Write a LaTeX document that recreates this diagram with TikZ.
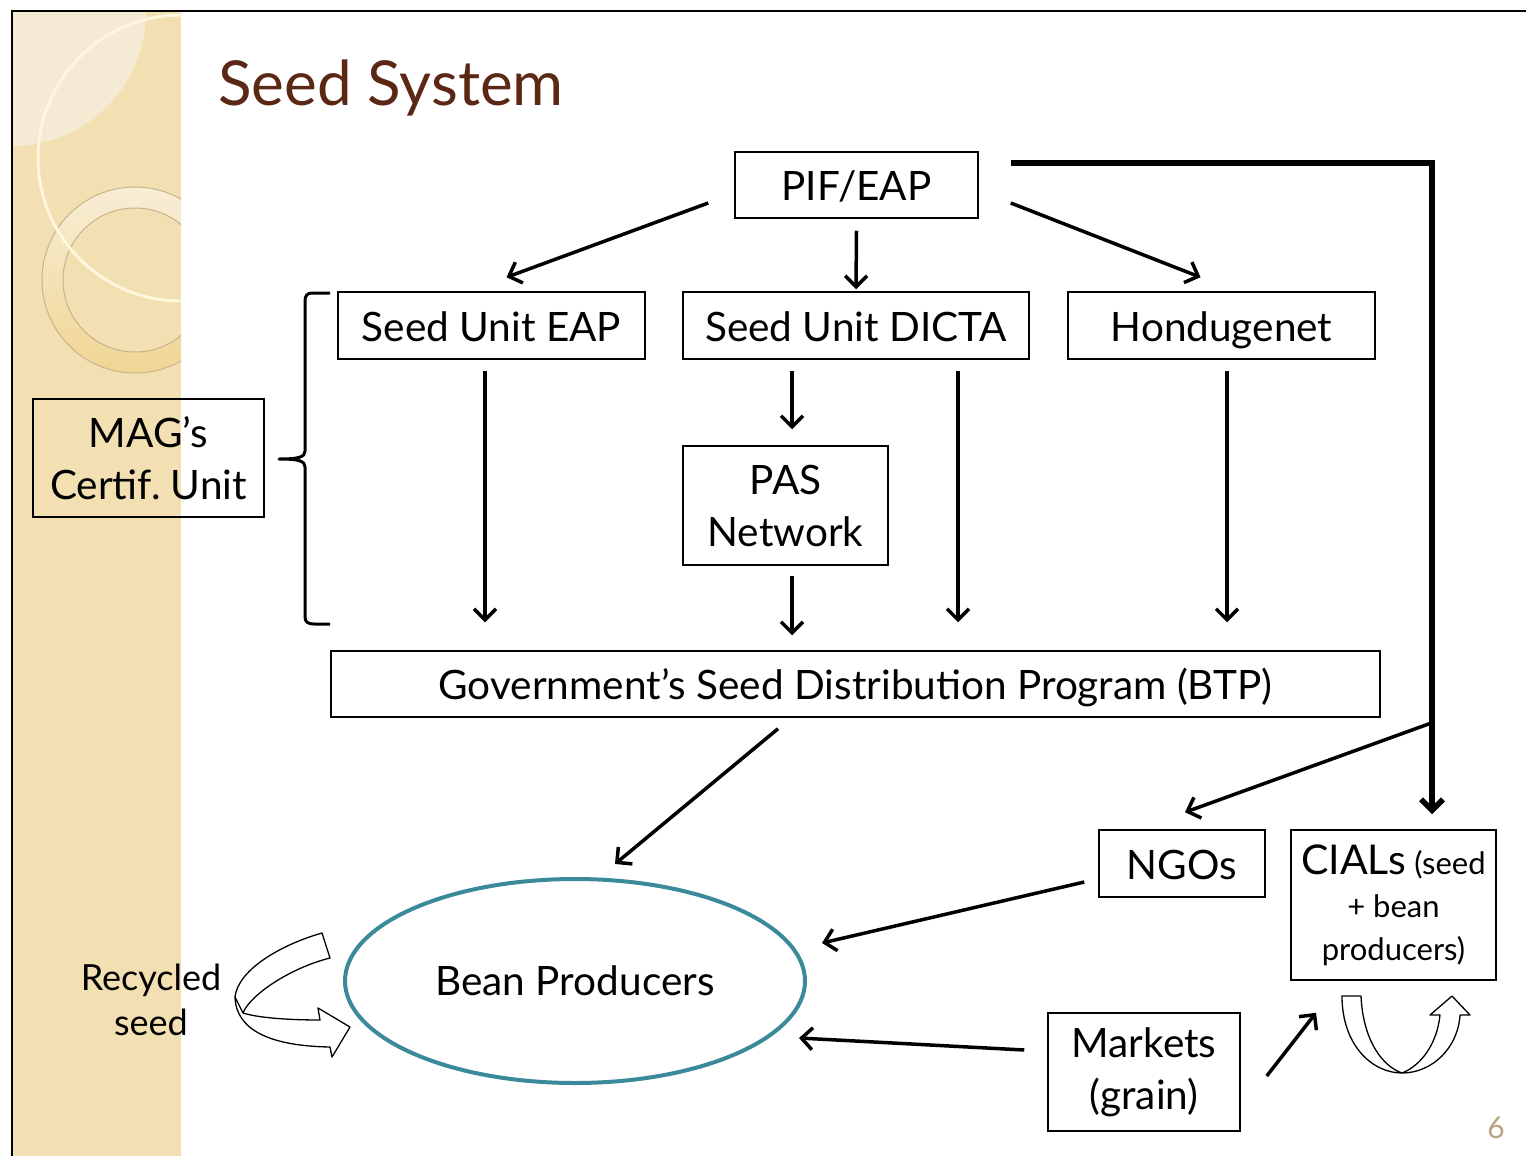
\documentclass[tikz,border=0pt]{standalone}
\usepackage{fontspec}
\setmainfont{Lato}
\usetikzlibrary{arrows.meta,calc,shapes.geometric}
\definecolor{titlebrown}{RGB}{92,40,22}
\definecolor{beanteal}{RGB}{58,138,155}
\definecolor{stripbeige}{RGB}{242,223,178}
\definecolor{lightbeige}{RGB}{245,234,212}
\definecolor{ringcream}{RGB}{255,246,222}
\definecolor{ringtop}{RGB}{248,238,214}
\definecolor{ringbot}{RGB}{240,213,148}
\definecolor{ringedge}{RGB}{200,180,140}
\definecolor{pagenum}{RGB}{184,163,128}
\begin{document}
\begin{tikzpicture}[x=1pt,y=-1pt,
  box/.style={draw=black, line width=1.5pt, inner sep=0pt, align=center, font=\fontsize{40.5}{52}\selectfont},
  oneline/.style={text height=31pt, text depth=0pt},
  arr/.style={line width=3.5pt, -{Straight Barb[length=11pt,width=22pt]}},
  ribbon/.style={draw=black, line width=1.3pt, fill=white, line join=round}
]
\useasboundingbox (0,0) rectangle (1526,1156);
\fill[white] (0,0) rectangle (1526,1156);
% decorative strip
\fill[stripbeige] (12,12) rectangle (181,1156);
\begin{scope}
  \clip (12,12) rectangle (181,1156);
  \fill[lightbeige] (12,12) circle (134);
  \shade[even odd rule, top color=ringtop, bottom color=ringbot] (135,280) circle (93) (135,280) circle (72);
  \draw[ringedge, line width=1pt] (135,280) circle (93) (135,280) circle (72);
  \draw[ringcream, line width=3pt] (181,158) circle (143);
\end{scope}
% frame
\draw[line width=2.5pt] (12,1156) -- (12,11) -- (1526,11);

% title
\node[anchor=base west, text=titlebrown, font=\fontsize{62}{70}\selectfont, inner sep=0pt] (title) at (218,105) {Seed System};

% boxes
\node[box, oneline, minimum width=243pt, minimum height=66pt] (pif) at (856.5,185) {PIF/EAP};
\node[box, oneline, minimum width=307pt, minimum height=67pt] (seu) at (491.5,325.5) {Seed Unit EAP};
\node[box, oneline, minimum width=346pt, minimum height=67pt] (sud) at (856,325.5) {Seed Unit DICTA};
\node[box, oneline, minimum width=307pt, minimum height=67pt] (hon) at (1221.5,325.5) {Hondugenet};
\node[box, minimum width=231pt, minimum height=118pt] (mag) at (148.5,458) {MAG’s\\Certif.\ Unit};
\node[box, minimum width=205pt, minimum height=119pt] (pas) at (785.5,505.5) {PAS\\Network};
\node[box, oneline, minimum width=1049pt, minimum height=66pt] (btp) at (855.5,684) {Government’s Seed Distribution Program (BTP)};
\node[box, oneline, minimum width=166pt, minimum height=67pt] (ngo) at (1182,863.5) {NGOs};
\node[box, minimum width=205pt, minimum height=150pt, font=\fontsize{31}{43}\selectfont] (cia) at (1393.5,905) {{\fontsize{41}{43}\selectfont CIALs} (seed\\+ bean\\producers)};
\node[box, minimum width=192pt, minimum height=118pt] (mkt) at (1144,1072) {Markets\\(grain)};
\node[ellipse, draw=beanteal, line width=4pt, minimum width=460pt, minimum height=204pt, inner sep=0pt, font=\fontsize{40.5}{52}\selectfont] (bean) at (575,981) {Bean Producers};
\node[align=center, inner sep=0pt, font=\fontsize{36}{45}\selectfont] (rec) at (151,1000) {Recycled\\seed};
\node[text=pagenum, inner sep=0pt, font=\fontsize{30}{34}\selectfont] (pg) at (1496,1128) {6};

% brace
\draw[line width=3pt, line join=round] (330,293) -- (312,293) .. controls (307,293) and (305,296) .. (305,301) -- (305,451)
  .. controls (305,457) and (299,459) .. (279,459)
  .. controls (299,459) and (305,461) .. (305,467) -- (305,617)
  .. controls (305,622) and (308,624) .. (314,624) -- (330,624);

% connectors from PIF/EAP
\draw[arr] ($(pif.west)+(-26,18)$) -- ($(seu.north)+(15,-14)$);
\draw[arr] ($(pif.south)+(0,12)$) -- ($(sud.north)+(0,-2)$);
\draw[arr] ($(pif.east)+(32,18)$) -- ($(hon.north)+(-21,-14)$);
\coordinate (rs) at ($(pif.east)+(32,-22)$);
\coordinate (rc) at ($(cia.north)+(38.5,-15)$);
\draw[arr, line width=5.5pt] (rs) -| (rc);
\coordinate (brs) at ($(rc |- btp.south)+(0,5)$);
\draw[arr] (brs) -- ($(ngo.north)+(3,-17)$);

% vertical connectors
\coordinate (btpT) at ($(btp.north)+(0,-28)$);
\coordinate (seuS) at ($(seu.south)+(-6.5,11)$);
\draw[arr] (seuS) -- (seuS |- btpT);
\draw[arr] ($(sud.south)+(-64,11)$) -- ($(pas.north)+(6.5,-16)$);
\draw[arr] ($(pas.south)+(6.5,10)$) -- ($(btp.north)+(-63.5,-15)$);
\coordinate (sudS) at ($(sud.south)+(102,11)$);
\draw[arr] (sudS) -- (sudS |- btpT);
\coordinate (honS) at ($(hon.south)+(5.5,11)$);
\draw[arr] (honS) -- (honS |- btpT);

% to bean producers
\draw[arr] ($(btp.south)+(-77.5,11)$) -- ($(bean.north)+(40,-13)$);
\draw[arr] ($(ngo.west)+(-14,18.5)$) -- ($(bean.east)+(15,-38)$);
\draw[arr] ($(mkt.west)+(-23,-22)$) -- ($(bean.east)+(-8,57)$);
\draw[arr] ($(mkt.east)+(26,4)$) -- ($(cia.south)+(-77.5,32)$);

% recycled seed curved arrow
\draw[ribbon] (235,997) .. controls (238,970) and (280,945) .. (322,933) -- (330,958) .. controls (290,968) and (250,995) .. (243,1013);
\draw[ribbon] (243,1013) .. controls (262,1019) and (300,1020) .. (320,1020) -- (318,1008) -- (350,1027) -- (332,1057) -- (330,1047)
  .. controls (270,1046) and (236,1030) .. (235,997) -- cycle;

% CIALs U-turn arrow
\draw[ribbon] (1342,996) .. controls (1342,1045) and (1372,1073) .. (1402,1073)
  .. controls (1432,1073) and (1458,1048) .. (1460,1015) -- (1470,1015) -- (1452,996) -- (1430,1015) -- (1440,1015)
  .. controls (1437,1045) and (1420,1066) .. (1402,1073)
  .. controls (1382,1066) and (1363,1040) .. (1361,996) -- cycle;
\end{tikzpicture}
\end{document}
